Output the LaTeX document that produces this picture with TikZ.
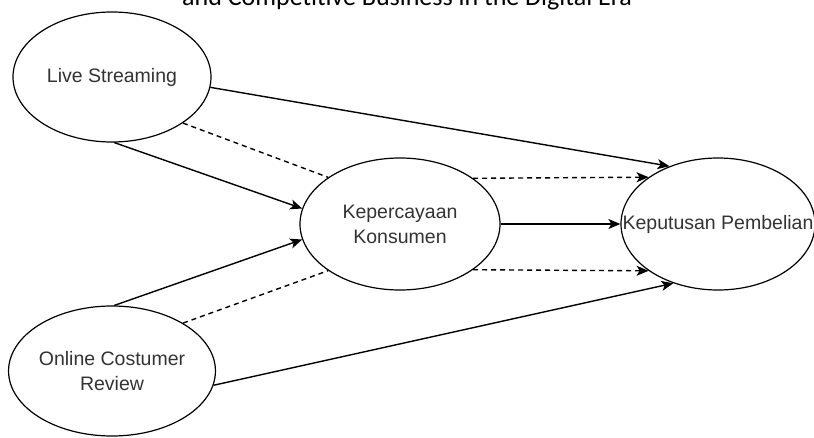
\documentclass[tikz,border=0pt]{standalone}
\usepackage{fontspec}
\setmainfont{Liberation Sans}
\newfontfamily\titlefont{Carlito}
\usetikzlibrary{shapes.geometric,arrows.meta}

\begin{document}
\begin{tikzpicture}[x=1pt, y=-1pt,
  varbox/.style={draw, ellipse, line width=1.2pt, inner sep=0pt,
    minimum width=198pt, minimum height=130pt, align=center,
    text=black!80, font=\fontsize{19.5}{25}\selectfont},
  solidline/.style={line width=1.4pt},
  dashline/.style={line width=1.4pt, dash pattern=on 5pt off 4pt},
  tip/.style={-{Stealth[length=12pt,width=10pt,inset=3pt]}}]

\definecolor{pagebg}{rgb}{1,1,1}
\useasboundingbox[fill=pagebg] (0,0) rectangle (814,437);

\node[anchor=base, font=\titlefont\fontsize{26}{30}\selectfont] (title) at (407,5) {and Competitive Business in the Digital Era};

\node[varbox] (ls) at (112,77) {Live Streaming};
\node[varbox] (ocr) at (112,371) {Online Costumer\\Review};
\node[varbox, minimum width=200pt, minimum height=132pt] (kk) at (400,224) {Kepercayaan\\Konsumen};
% text runs past the ellipse, so it sits in a label
\node[varbox, minimum width=194pt, minimum height=132pt,
  label={[text=black!80, font=\fontsize{19.5}{25}\selectfont]center:Keputusan Pembelian}] (kp) at (718,224) {};

\draw[solidline,tip] (ls.-6) -- (kp.130);
\draw[dashline] (ls.-33) -- (kk.147);
\draw[solidline,tip] (ls.-88) -- (kk.171);

\draw[solidline,tip] (ocr.88) -- (kk.189);
\draw[dashline] (ocr.34) -- (kk.213);
\draw[solidline,tip] (ocr.-8) -- (kp.-127);

\draw[dashline,tip] (kk.32) -- (kp.146.5);
\draw[solidline,tip] (kk.east) -- (kp.west);
\draw[dashline,tip] (kk.-32) -- (kp.-146.5);

\end{tikzpicture}
\end{document}
